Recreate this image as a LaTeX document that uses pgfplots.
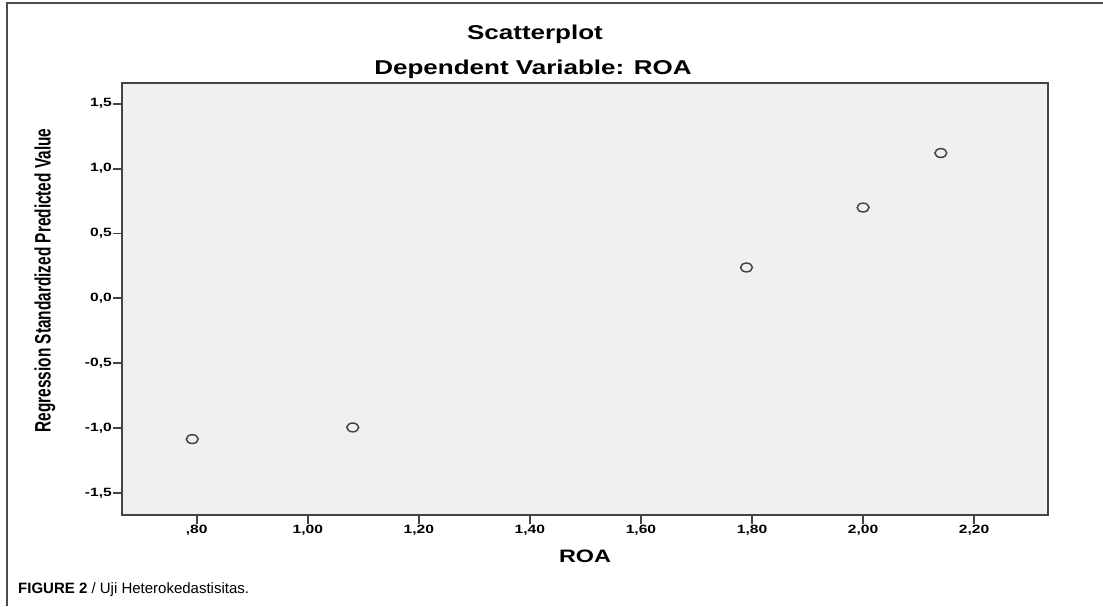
\documentclass[border=0pt]{standalone}
\usepackage{fontspec}
\setmainfont{Liberation Sans}
\usepackage{graphicx}
\usepackage{pgfplots}
\pgfplotsset{compat=1.18}
\definecolor{plotbg}{HTML}{F0F0F0}
\definecolor{frame}{HTML}{444444}
% the original chart is stretched sideways
\newcommand\sx[1]{\scalebox{1.3}[1]{#1}}
\begin{document}
\begin{tikzpicture}[x=1pt,y=1pt]
\path[use as bounding box] (0,0) rectangle (1103,606);
\draw[black!70, line width=1.2pt] (7,0) -- (7,603) -- (1103,603);
\begin{axis}[
  at={(122pt,91pt)}, anchor=south west,
  scale only axis, width=926pt, height=432pt,
  xmin=0.6655, xmax=2.333, ymin=-1.67, ymax=1.66,
  axis background/.style={fill=plotbg},
  axis line style={draw=frame, line width=2pt},
  tick style={draw=frame, line width=1.8pt},
  tick align=outside, major tick length=9pt,
  xtick pos=bottom, ytick pos=left,
  xtick={0.8,1.0,1.2,1.4,1.6,1.8,2.0,2.2},
  xticklabels={{\sx{,80}},{\sx{1,00}},{\sx{1,20}},{\sx{1,40}},{\sx{1,60}},{\sx{1,80}},{\sx{2,00}},{\sx{2,20}}},
  ytick={-1.5,-1,-0.5,0,0.5,1,1.5},
  yticklabels={{\sx{-1,5}},{\sx{-1,0}},{\sx{-0,5}},{\sx{0,0}},{\sx{0,5}},{\sx{1,0}},{\sx{1,5}}},
  ticklabel style={font=\bfseries\fontsize{12}{12}\selectfont},
  xticklabel style={inner sep=0pt, yshift=-1pt},
  yticklabel style={inner sep=0pt, xshift=-1pt},
  xlabel={\sx{ROA}},
  xlabel style={font=\bfseries\fontsize{18}{18}\selectfont, at={(axis description cs:0.5,-0.111)}, anchor=base},
  ylabel={\scalebox{1}[1.45]{Regression Standardized Predicted Value}},
  ylabel style={font=\bfseries\fontsize{15.4}{15.4}\selectfont, at={(axis description cs:-0.0832,0.543)}, anchor=center},
]
\addplot[only marks, mark=o, mark size=4.4pt, mark options={xscale=1.35, line width=1.5pt, draw=frame}] coordinates {
(0.792,-1.085) (1.081,-0.995) (1.790,0.238) (2.000,0.700) (2.140,1.120)
};
\end{axis}
\node[font=\bfseries\fontsize{20}{20}\selectfont, anchor=base] at (535,566) {\sx{Scatterplot}};
\node[font=\bfseries\fontsize{20}{20}\selectfont, anchor=base] at (533,531) {\sx{Dependent Variable: ROA}};
\node[font=\fontsize{15}{15}\selectfont, anchor=base west, inner sep=0pt] at (18,13) {\textbf{FIGURE 2} / Uji Heterokedastisitas.};
\end{tikzpicture}
\end{document}
